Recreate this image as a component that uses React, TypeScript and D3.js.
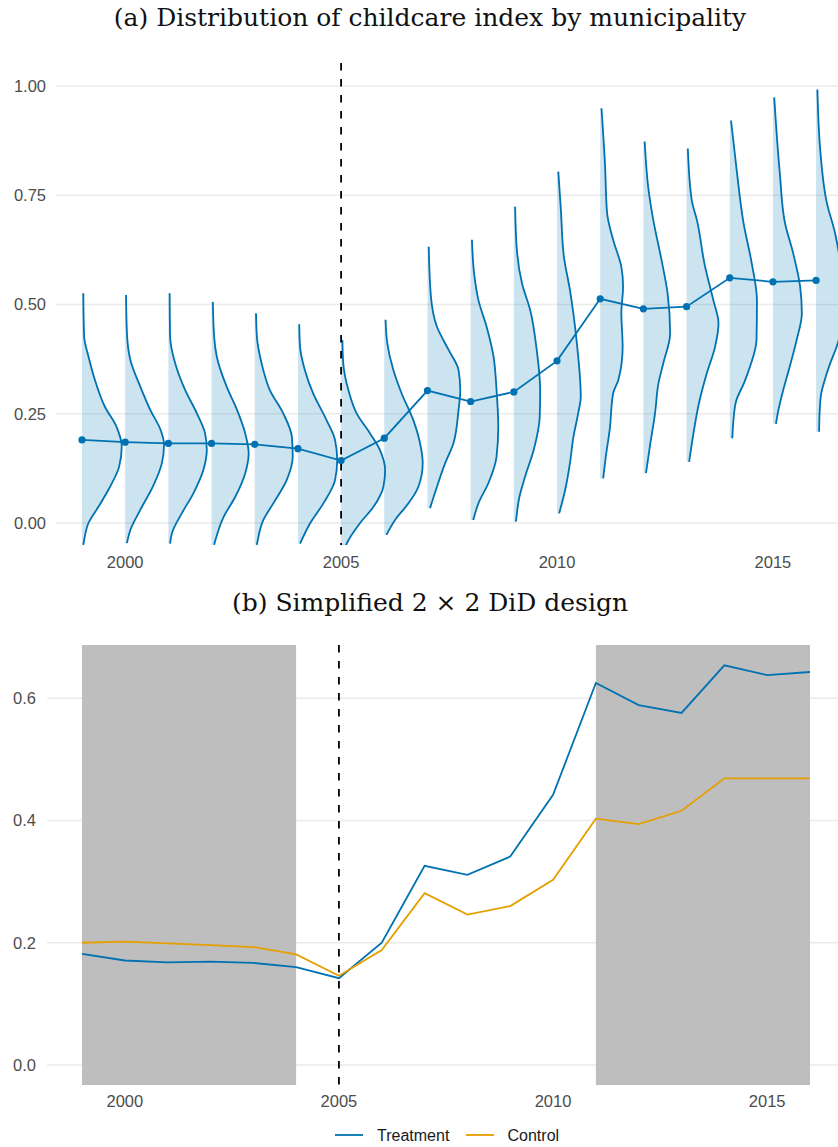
import React from "react";
import * as d3 from "d3";

// Years covered by both panels
const years = [1999, 2000, 2001, 2002, 2003, 2004, 2005, 2006, 2007, 2008, 2009, 2010, 2011, 2012, 2013, 2014, 2015, 2016];
const reformYear = 2005;

// Panel (a): mean childcare index per year
const meanIndex = [0.190, 0.185, 0.182, 0.182, 0.180, 0.170, 0.143, 0.194, 0.303, 0.278, 0.300, 0.371, 0.513, 0.490, 0.495, 0.561, 0.552, 0.555];

// Panel (a): density profile per year, as [index value, density width in years]
const density1999: [number, number][] = [[0.526, 0.03], [0.426, 0.05], [0.381, 0.15], [0.327, 0.30], [0.266, 0.53], [0.220, 0.80], [0.175, 0.92], [0.129, 0.86], [0.083, 0.65], [0.037, 0.38], [0.0, 0.15], [-0.039, 0.05], [-0.05, 0.03]];
const density2000: [number, number][] = [[0.522, 0.02], [0.435, 0.04], [0.373, 0.12], [0.312, 0.35], [0.259, 0.58], [0.213, 0.82], [0.180, 0.90], [0.137, 0.85], [0.083, 0.64], [0.030, 0.35], [-0.016, 0.12], [-0.046, 0.04]];
const density2001: [number, number][] = [[0.526, 0.03], [0.426, 0.04], [0.358, 0.18], [0.304, 0.39], [0.251, 0.66], [0.205, 0.85], [0.167, 0.89], [0.121, 0.81], [0.068, 0.58], [0.022, 0.31], [-0.024, 0.08], [-0.047, 0.04]];
const density2002: [number, number][] = [[0.506, 0.03], [0.426, 0.06], [0.381, 0.12], [0.312, 0.35], [0.259, 0.59], [0.205, 0.78], [0.159, 0.86], [0.114, 0.78], [0.060, 0.55], [0.014, 0.28], [-0.039, 0.09], [-0.05, 0.06]];
const density2003: [number, number][] = [[0.480, 0.03], [0.426, 0.05], [0.365, 0.16], [0.304, 0.35], [0.251, 0.66], [0.197, 0.86], [0.152, 0.88], [0.098, 0.74], [0.045, 0.43], [0.007, 0.20], [-0.039, 0.07], [-0.05, 0.05]];
const density2004: [number, number][] = [[0.455, 0.03], [0.403, 0.05], [0.350, 0.16], [0.297, 0.35], [0.236, 0.66], [0.190, 0.86], [0.144, 0.91], [0.098, 0.86], [0.045, 0.59], [-0.001, 0.28], [-0.047, 0.05]];
const density2005: [number, number][] = [[0.419, 0.03], [0.365, 0.05], [0.304, 0.17], [0.251, 0.36], [0.205, 0.67], [0.167, 0.90], [0.121, 1.02], [0.083, 0.98], [0.037, 0.75], [0.0, 0.44], [-0.047, 0.13], [-0.06, 0.08]];
const density2006: [number, number][] = [[0.465, 0.03], [0.411, 0.07], [0.350, 0.21], [0.297, 0.40], [0.236, 0.67], [0.182, 0.83], [0.137, 0.89], [0.083, 0.79], [0.045, 0.56], [0.007, 0.25], [-0.027, 0.05]];
const density2007: [number, number][] = [[0.632, 0.03], [0.518, 0.08], [0.449, 0.22], [0.396, 0.49], [0.350, 0.72], [0.304, 0.76], [0.259, 0.72], [0.182, 0.60], [0.137, 0.41], [0.083, 0.22], [0.034, 0.06]];
const density2008: [number, number][] = [[0.648, 0.03], [0.571, 0.08], [0.510, 0.18], [0.449, 0.37], [0.381, 0.53], [0.304, 0.60], [0.220, 0.64], [0.152, 0.60], [0.091, 0.41], [0.045, 0.18], [0.007, 0.06]];
const density2009: [number, number][] = [[0.724, 0.03], [0.625, 0.07], [0.548, 0.19], [0.487, 0.38], [0.396, 0.53], [0.304, 0.61], [0.243, 0.60], [0.167, 0.46], [0.106, 0.26], [0.060, 0.13], [0.003, 0.05]];
const density2010: [number, number][] = [[0.804, 0.03], [0.716, 0.09], [0.609, 0.16], [0.533, 0.30], [0.411, 0.46], [0.289, 0.55], [0.251, 0.49], [0.197, 0.38], [0.137, 0.30], [0.076, 0.19], [0.022, 0.05]];
const density2011: [number, number][] = [[0.949, 0.03], [0.823, 0.11], [0.709, 0.16], [0.648, 0.30], [0.586, 0.49], [0.541, 0.53], [0.480, 0.49], [0.403, 0.52], [0.327, 0.42], [0.297, 0.30], [0.213, 0.22], [0.152, 0.13], [0.102, 0.07]];
const density2012: [number, number][] = [[0.873, 0.03], [0.762, 0.12], [0.693, 0.23], [0.602, 0.42], [0.526, 0.56], [0.434, 0.62], [0.365, 0.46], [0.320, 0.35], [0.251, 0.27], [0.175, 0.15], [0.114, 0.06]];
const density2013: [number, number][] = [[0.857, 0.03], [0.739, 0.12], [0.693, 0.24], [0.586, 0.43], [0.510, 0.62], [0.457, 0.74], [0.403, 0.66], [0.343, 0.47], [0.266, 0.27], [0.205, 0.16], [0.140, 0.06]];
const density2014: [number, number][] = [[0.921, 0.03], [0.808, 0.16], [0.686, 0.32], [0.594, 0.51], [0.510, 0.63], [0.419, 0.62], [0.358, 0.47], [0.320, 0.33], [0.280, 0.15], [0.240, 0.09], [0.194, 0.06]];
const density2015: [number, number][] = [[0.974, 0.03], [0.800, 0.16], [0.686, 0.28], [0.617, 0.47], [0.541, 0.63], [0.480, 0.67], [0.419, 0.55], [0.358, 0.39], [0.297, 0.22], [0.260, 0.13], [0.227, 0.07]];
const density2016: [number, number][] = [[0.992, 0.03], [0.861, 0.09], [0.732, 0.25], [0.663, 0.44], [0.602, 0.55], [0.530, 0.62], [0.470, 0.63], [0.411, 0.50], [0.358, 0.30], [0.327, 0.20], [0.297, 0.12], [0.250, 0.08], [0.209, 0.07]];

const densities = [density1999, density2000, density2001, density2002, density2003, density2004, density2005, density2006, density2007, density2008, density2009, density2010, density2011, density2012, density2013, density2014, density2015, density2016];

// Panel (b): group means
const treatment = [0.182, 0.171, 0.168, 0.169, 0.167, 0.160, 0.142, 0.200, 0.326, 0.311, 0.341, 0.442, 0.625, 0.589, 0.576, 0.654, 0.638, 0.643];
const control = [0.200, 0.202, 0.199, 0.196, 0.193, 0.181, 0.146, 0.188, 0.281, 0.246, 0.260, 0.303, 0.403, 0.394, 0.416, 0.469, 0.469, 0.469];

// Shaded comparison windows in panel (b)
const preWindow = [1999, 2004];
const postWindow = [2011, 2016];

// Axis ticks
const xTicks = [2000, 2005, 2010, 2015];
const yTicksA = [0, 0.25, 0.5, 0.75, 1.0];
const yTicksB = [0, 0.2, 0.4, 0.6];

const seriesB = [
  { name: "Treatment", values: treatment, color: "#0072B2" },
  { name: "Control", values: control, color: "#E69F00" },
];

const BLUE = "#0072B2";
const AXIS_FONT = "'Liberation Sans', Arial, sans-serif";
const TITLE_FONT = "'DejaVu Serif', serif";

export default function App() {
  const W = 838;
  const H = 1147;

  // Panel (a) geometry
  const aTop = 63, aBottom = 545, aLeft = 56, aRight = 838;
  const xA = d3.scaleLinear().domain([1999, 2016]).range([82, 816.1]);
  const yA = d3.scaleLinear().domain([0, 1]).range([523, 86]);

  // Panel (b) geometry
  const bTop = 645, bBottom = 1085, bLeft = 47, bRight = 838;
  const xB = d3.scaleLinear().domain([1999, 2016]).range([82, 810]);
  const yB = d3.scaleLinear().domain([0, 0.6]).range([1065, 698.3]);

  const fmtA = d3.format(".2f");
  const fmtB = d3.format(".1f");

  const slabLine = (year: number) =>
    d3.line<[number, number]>()
      .x((d) => xA(year + d[1]))
      .y((d) => yA(d[0]))
      .curve(d3.curveMonotoneY);

  const slabArea = (year: number) =>
    d3.area<[number, number]>()
      .y((d) => yA(d[0]))
      .x0(() => xA(year))
      .x1((d) => xA(year + d[1]))
      .curve(d3.curveMonotoneY);

  const meanLine = d3.line<number>()
    .x((_, i) => xA(years[i]))
    .y((d) => yA(d));

  const lineB = d3.line<number>()
    .x((_, i) => xB(years[i]))
    .y((d) => yB(d));

  return (
    <svg
      width={W}
      height={H}
      viewBox={`0 0 ${W} ${H}`}
      style={{ position: "absolute", left: 0, top: 0, display: "block", background: "#fff" }}
    >
      <defs>
        <clipPath id="clipA">
          <rect x={aLeft} y={aTop} width={aRight - aLeft} height={aBottom - aTop} />
        </clipPath>
        <clipPath id="clipB">
          <rect x={bLeft} y={bTop} width={bRight - bLeft} height={bBottom - bTop} />
        </clipPath>
      </defs>

      {/* Panel (a) */}
      <text x={430} y={26} textAnchor="middle" fontFamily={TITLE_FONT} fontSize={25} fill="#111">
        (a) Distribution of childcare index by municipality
      </text>

      {yTicksA.map((t) => (
        <g key={`ga${t}`}>
          <line x1={aLeft} x2={aRight} y1={yA(t)} y2={yA(t)} stroke="#ebebeb" strokeWidth={1.6} />
          <text x={46} y={yA(t)} dy="0.36em" textAnchor="end" fontFamily={AXIS_FONT} fontSize={16.5} fill="#4d4d4d">
            {fmtA(t)}
          </text>
        </g>
      ))}
      {xTicks.map((t) => (
        <text key={`xa${t}`} x={xA(t)} y={567.5} textAnchor="middle" fontFamily={AXIS_FONT} fontSize={16.5} fill="#4d4d4d">
          {t}
        </text>
      ))}

      <g clipPath="url(#clipA)">
        {years.map((yr, i) => (
          <path key={`sa${yr}`} d={slabArea(yr)(densities[i]) || ""} fill={BLUE} fillOpacity={0.2} />
        ))}
        {years.map((yr, i) => (
          <path key={`sl${yr}`} d={slabLine(yr)(densities[i]) || ""} fill="none" stroke={BLUE} strokeWidth={1.8} />
        ))}
        <line
          x1={xA(reformYear)} x2={xA(reformYear)} y1={aTop} y2={aBottom}
          stroke="#000" strokeWidth={1.8} strokeDasharray="7.5,8.5"
        />
        <path d={meanLine(meanIndex) || ""} fill="none" stroke={BLUE} strokeWidth={1.8} />
        {meanIndex.map((m, i) => (
          <circle key={`pt${i}`} cx={xA(years[i])} cy={yA(m)} r={3.6} fill={BLUE} />
        ))}
      </g>

      {/* Panel (b) */}
      <text x={430} y={611} textAnchor="middle" fontFamily={TITLE_FONT} fontSize={25} fill="#111">
        (b) Simplified 2 × 2 DiD design
      </text>

      {yTicksB.map((t) => (
        <g key={`gb${t}`}>
          <line x1={bLeft} x2={bRight} y1={yB(t)} y2={yB(t)} stroke="#ebebeb" strokeWidth={1.6} />
          <text x={36} y={yB(t)} dy="0.36em" textAnchor="end" fontFamily={AXIS_FONT} fontSize={16.5} fill="#4d4d4d">
            {fmtB(t)}
          </text>
        </g>
      ))}
      {xTicks.map((t) => (
        <text key={`xb${t}`} x={xB(t)} y={1107} textAnchor="middle" fontFamily={AXIS_FONT} fontSize={16.5} fill="#4d4d4d">
          {t}
        </text>
      ))}

      <g clipPath="url(#clipB)">
        {[preWindow, postWindow].map((w, i) => (
          <rect key={`win${i}`} x={xB(w[0])} y={bTop} width={xB(w[1]) - xB(w[0])} height={bBottom - bTop} fill="#bebebe" />
        ))}
        <line
          x1={xB(reformYear)} x2={xB(reformYear)} y1={bTop} y2={bBottom}
          stroke="#000" strokeWidth={1.8} strokeDasharray="7.5,8.5"
        />
        {seriesB.map((s) => (
          <path key={s.name} d={lineB(s.values) || ""} fill="none" stroke={s.color} strokeWidth={1.8} />
        ))}
      </g>

      {/* Legend */}
      <g fontFamily={AXIS_FONT} fontSize={16} fill="#1a1a1a">
        <line x1={335} x2={363} y1={1135} y2={1135} stroke={seriesB[0].color} strokeWidth={1.8} />
        <text x={377} y={1135} dy="0.36em">{seriesB[0].name}</text>
        <line x1={466} x2={494} y1={1135} y2={1135} stroke={seriesB[1].color} strokeWidth={1.8} />
        <text x={507.5} y={1135} dy="0.36em">{seriesB[1].name}</text>
      </g>
    </svg>
  );
}
